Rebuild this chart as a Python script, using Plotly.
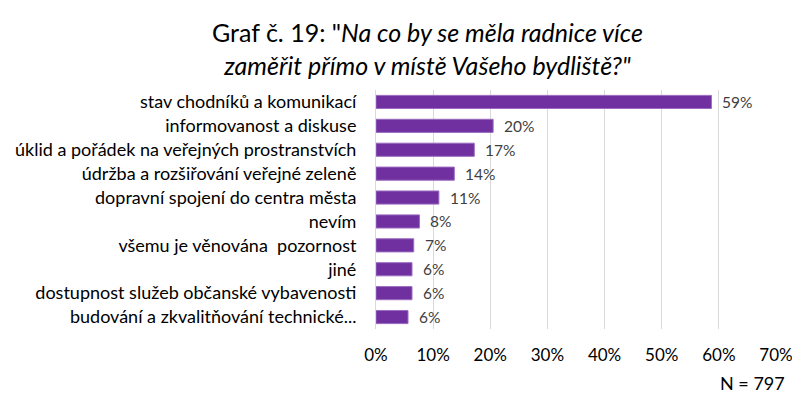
import plotly.graph_objects as go

categories = [
    "stav chodníků a komunikací",
    "informovanost a diskuse",
    "úklid a pořádek na veřejných prostranstvích",
    "údržba a rozšiřování veřejné zeleně",
    "dopravní spojení do centra města",
    "nevím",
    "všemu je věnována  pozornost",
    "jiné",
    "dostupnost služeb občanské vybavenosti",
    "budování a zkvalitňování technické...",
]
values = [58.7, 20.5, 17.2, 13.7, 11.0, 7.6, 6.6, 6.3, 6.3, 5.6]
value_labels = ["59%", "20%", "17%", "14%", "11%", "8%", "7%", "6%", "6%", "6%"]
tick_vals = [0, 10, 20, 30, 40, 50, 60, 70]
tick_text = ["0%", "10%", "20%", "30%", "40%", "50%", "60%", "70%"]

FONT = "Lato"
# page has an 8px body margin; figure coordinates = page coordinates - 8
OFF = 8
W, H = 800 - OFF, 393 - OFF
L, R_EDGE, T, B_EDGE = 375.7 - OFF, 776.3 - OFF, 89.7 - OFF, 329 - OFF
PW, PH = R_EDGE - L, B_EDGE - T

fig = go.Figure()
fig.add_trace(go.Bar(
    x=values, y=categories, orientation="h",
    marker=dict(color="#7030A0", line=dict(color="#9a6cc0", width=1)),
    width=0.55,
    hoverinfo="skip",
))
for v, c, t in zip(values, categories, value_labels):
    fig.add_annotation(x=v, y=c, text=t, xanchor="left", yanchor="middle",
                       xshift=9, showarrow=False,
                       font=dict(family=FONT, size=15.5, color="#404040"))

fig.add_annotation(
    xref="paper", yref="paper", x=(427 - OFF - L) / PW, y=1 + (T - (48 - OFF)) / PH,
    text='Graf č. 19: "<i>Na co by se měla radnice více</i><br><i>zaměřit přímo v místě Vašeho bydliště?"</i>',
    showarrow=False, xanchor="center", yanchor="middle", align="center",
    font=dict(family=FONT, size=25, color="#000000"),
)
fig.add_annotation(
    xref="paper", yref="paper", x=(787 - OFF - L) / PW, y=-((383 - OFF) - B_EDGE) / PH,
    text="N = 797", showarrow=False, xanchor="right", yanchor="middle",
    font=dict(family=FONT, size=18, color="#000000"),
)

fig.update_layout(
    width=W, height=H,
    margin=dict(l=L, r=W - R_EDGE, t=T, b=H - B_EDGE),
    paper_bgcolor="white", plot_bgcolor="white",
    showlegend=False,
    font=dict(family=FONT, size=18, color="#000000"),
    xaxis=dict(range=[0, 70], tickvals=tick_vals, ticktext=tick_text,
               showgrid=True, gridcolor="#d9d9d9", gridwidth=1,
               zeroline=False, showline=False, ticks="",
               ticklabelstandoff=14, automargin=False,
               tickfont=dict(family=FONT, size=17, color="#000000")),
    yaxis=dict(autorange="reversed", showgrid=False, showline=True,
               linecolor="#d9d9d9", linewidth=1, ticks="",
               ticklabelstandoff=15, automargin=False,
               tickfont=dict(family=FONT, size=18, color="#000000")),
)
fig.write_html("out.html")
